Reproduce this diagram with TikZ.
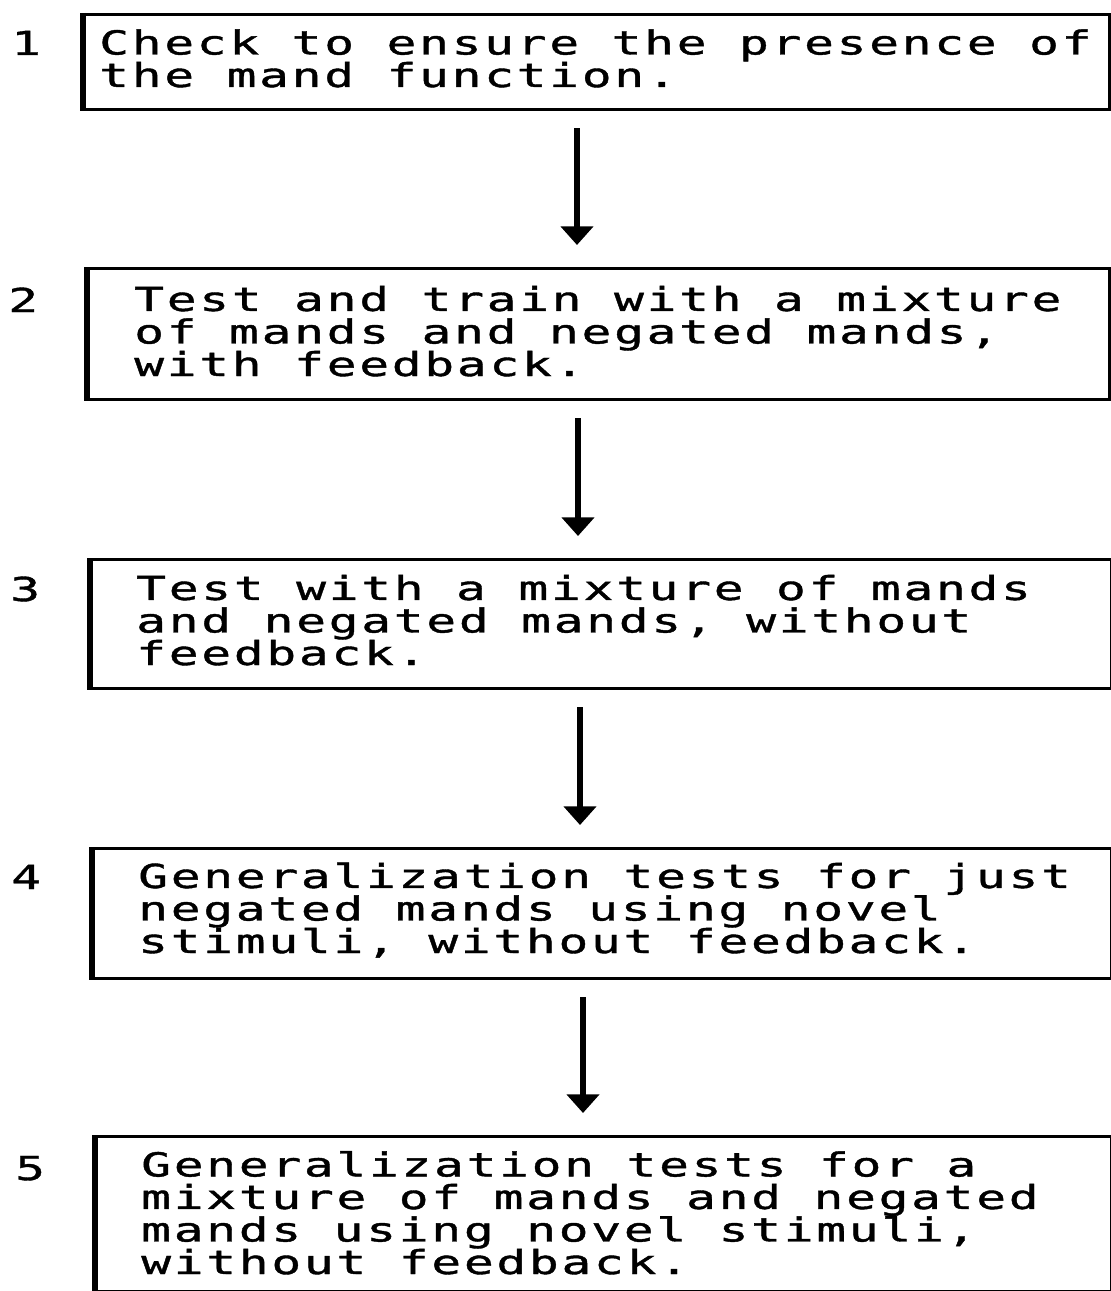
\documentclass[tikz,border=0pt]{standalone}
\usepackage{fontspec}
\usetikzlibrary{arrows.meta}
% wide, plotter-like monospaced lettering
\newfontfamily\plotfont{DejaVu Sans Mono}[FakeStretch=1.5, LetterSpace=8.3, FakeBold=1.2]

\tikzset{
  stepbox/.style={draw=black, line width=2.6pt, rectangle, inner sep=0pt, anchor=north west},
  steptext/.style={font=\plotfont\fontsize{24.75}{24.4}\selectfont, align=left, inner sep=0pt, anchor=base west},
  stepnum/.style={font=\plotfont\fontsize{24.75}{24.4}\selectfont, inner sep=0pt, anchor=base west},
  flow/.style={line width=4.8pt, -{Triangle[width=24pt,length=14pt]}, shorten <=12.5pt, shorten >=16.5pt},
  leftedge/.style={line width=4.5pt}
}

\begin{document}
\begin{tikzpicture}[x=0.75pt, y=-0.75pt]
  \useasboundingbox (0,0) rectangle (1110,1291);

  % step boxes
  \node[stepbox, minimum width=1025*0.75pt, minimum height=95*0.75pt]  (b1) at (83,13) {};
  \node[stepbox, minimum width=1021*0.75pt, minimum height=131*0.75pt] (b2) at (87,267) {};
  \node[stepbox, minimum width=1020*0.75pt, minimum height=129*0.75pt] (b3) at (90,558) {};
  \node[stepbox, minimum width=1018*0.75pt, minimum height=130*0.75pt] (b4) at (92,847) {};
  \node[stepbox, minimum width=1015*0.75pt, minimum height=155*0.75pt] (b5) at (95,1135) {};

  % heavier left sides
  \foreach \b in {b1,b2,b3,b4,b5}
    \draw[leftedge] (\b.north west) -- (\b.south west);

  % step numbers
  \node[stepnum] (n1) at (11,55)   {1};
  \node[stepnum] (n2) at (8,312)   {2};
  \node[stepnum] (n3) at (10,601)  {3};
  \node[stepnum] (n4) at (11,889)  {4};
  \node[stepnum] (n5) at (15,1180) {5};

  % step descriptions (anchored at the baseline of the last line)
  \node[steptext] (t1) at (99,87)  {Check to ensure the presence of\\the mand function.};
  \node[steptext] (t2) at (134,376) {Test and train with a mixture\\of mands and negated mands,\\with feedback.};
  \node[steptext] (t3) at (136,665) {Test with a mixture of mands\\and negated mands, without\\feedback.};
  \node[steptext] (t4) at (138,953) {Generalization tests for just\\negated mands using novel\\stimuli, without feedback.};
  \node[steptext] (t5) at (141,1274) {Generalization tests for a\\mixture of mands and negated\\mands using novel stimuli,\\without feedback.};

  % arrow columns
  \coordinate (a1) at (577,0);
  \coordinate (a2) at (578,0);
  \coordinate (a3) at (580,0);
  \coordinate (a4) at (583,0);

  % connectors between steps
  \draw[flow] (b1.south -| a1) -- (b2.north -| a1);
  \draw[flow] (b2.south -| a2) -- (b3.north -| a2);
  \draw[flow] (b3.south -| a3) -- (b4.north -| a3);
  \draw[flow] (b4.south -| a4) -- (b5.north -| a4);
\end{tikzpicture}
\end{document}
